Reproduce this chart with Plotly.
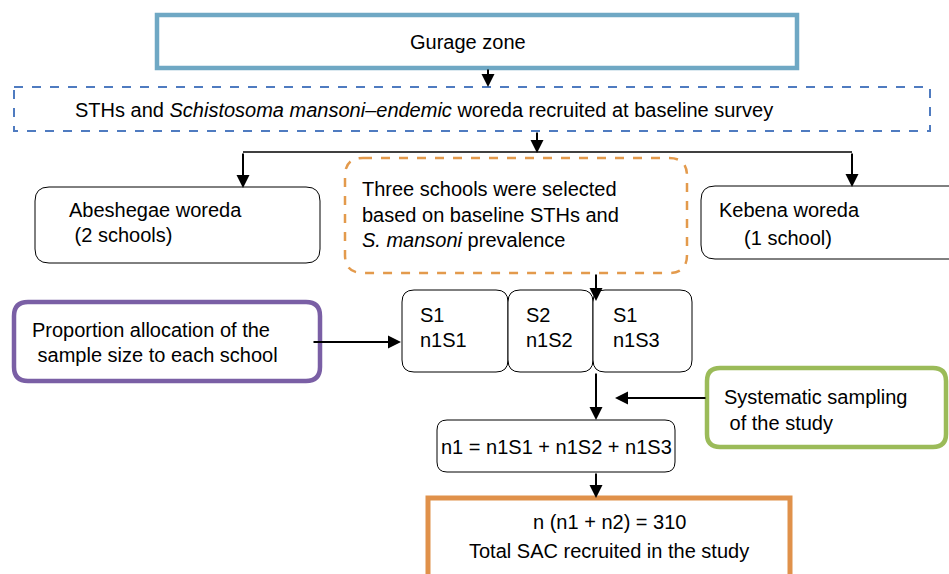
import plotly.graph_objects as go

# ---- text content ----
top_label = "Gurage zone"
survey_label = "STHs and <i>Schistosoma mansoni–endemic</i> woreda recruited at baseline survey"
woreda_left = ["Abeshegae woreda", " (2 schools)"]
selection_lines = ["Three schools were selected", "based on baseline STHs and", "<i>S. mansoni</i> prevalence"]
woreda_right = ["Kebena woreda", "  (1 school)"]
school_names = ["S1", "S2", "S1"]
school_samples = ["n1S1", "n1S2", "n1S3"]
allocation_lines = ["Proportion allocation of the", " sample size to each school"]
sampling_lines = ["Systematic sampling", " of the study"]
sum_label = "n1 = n1S1 + n1S2 + n1S3"
total_lines = ["n (n1 + n2) = 310", "Total SAC recruited in the study"]

W, H = 949, 574
FONT = "Liberation Sans, Arial, sans-serif"
FS = 20

fig = go.Figure()
shapes = []
annotations = []


def rrect(x0, y0, x1, y1, r, color, width, dash="solid"):
    p = (f"M {x0+r},{y0} L {x1-r},{y0} Q {x1},{y0} {x1},{y0+r} "
         f"L {x1},{y1-r} Q {x1},{y1} {x1-r},{y1} L {x0+r},{y1} "
         f"Q {x0},{y1} {x0},{y1-r} L {x0},{y0+r} Q {x0},{y0} {x0+r},{y0} Z")
    shapes.append(dict(type="path", path=p, xref="x", yref="y",
                       line=dict(color=color, width=width, dash=dash),
                       fillcolor="white", layer="below"))


def rect(x0, y0, x1, y1, color, width, dash="solid"):
    shapes.append(dict(type="rect", x0=x0, y0=y0, x1=x1, y1=y1, xref="x", yref="y",
                       line=dict(color=color, width=width, dash=dash),
                       fillcolor="white", layer="below"))


def line(x0, y0, x1, y1, width=1.5):
    shapes.append(dict(type="line", x0=x0, y0=y0, x1=x1, y1=y1, xref="x", yref="y",
                       line=dict(color="black", width=width)))


def arrow(x0, y0, x1, y1, width=2):
    annotations.append(dict(x=x1, y=y1, ax=x0, ay=y0, xref="x", yref="y",
                            axref="x", ayref="y", text="", showarrow=True,
                            arrowhead=2, arrowsize=1.3, arrowwidth=width,
                            arrowcolor="black"))


def text(x, y, s, anchor="left"):
    annotations.append(dict(x=x, y=y, xref="x", yref="y", text=s, showarrow=False,
                            xanchor=anchor, yanchor="middle",
                            font=dict(family=FONT, size=FS, color="black")))


# boxes
rect(157, 15, 797, 68, "#6fa8c4", 4.5)
rect(14, 87, 930, 131, "#4f7bc0", 2, "dash")
rrect(35, 187, 320, 263, 14, "black", 1)
rrect(345, 158, 687, 273, 18, "#e39a4c", 2.5, "dash")
rrect(701, 186, 965, 259, 14, "black", 1)
school_x = [402, 508, 593, 692]
for i in range(3):
    rrect(school_x[i], 290, school_x[i + 1], 372, 12, "black", 1)
rrect(14, 302, 320, 381, 14, "#7a5fa5", 4.5)
rrect(707, 368, 946, 447, 13, "#9bbb59", 4.5)
rrect(437, 420, 675, 472, 10, "black", 1)
rect(428, 498, 790, 585, "#e0914a", 5)

# connectors
arrow(488, 68, 488, 87)
arrow(537, 131, 537, 153)
line(243, 152, 852, 152)
arrow(243, 152, 243, 188)
arrow(852, 152, 852, 187)
arrow(596, 273, 596, 301)
arrow(312, 342, 401, 342)
arrow(596, 372, 596, 420)
arrow(707, 398, 615, 398)
arrow(596, 472, 596, 498)

# texts
text(468, 42, top_label, "center")
text(73, 110, survey_label)
text(67, 210, woreda_left[0])
text(67, 235, woreda_left[1])
for i, s in enumerate(selection_lines):
    text(360, 189 + 25.5 * i, s)
text(717, 210, woreda_right[0])
text(731, 238, woreda_right[1])
name_x = [418, 524, 611]
for i in range(3):
    text(name_x[i], 315, school_names[i])
    text(name_x[i], 340, school_samples[i])
text(30, 330, allocation_lines[0])
text(30, 355, allocation_lines[1])
text(722, 397, sampling_lines[0])
text(722, 423, sampling_lines[1])
text(556, 447, sum_label, "center")
text(609, 522, total_lines[0], "center")
text(609, 551, total_lines[1], "center")

fig.update_layout(
    width=W, height=H, margin=dict(l=0, r=0, t=0, b=0),
    paper_bgcolor="white", plot_bgcolor="white",
    xaxis=dict(range=[0, W], visible=False, fixedrange=True),
    yaxis=dict(range=[H, 0], visible=False, fixedrange=True),
    shapes=shapes, annotations=annotations, showlegend=False,
)
fig.write_html(
    "out.html",
    config={"displayModeBar": False},
    post_script="document.body.style.margin='0px';document.body.style.overflow='hidden';",
)
